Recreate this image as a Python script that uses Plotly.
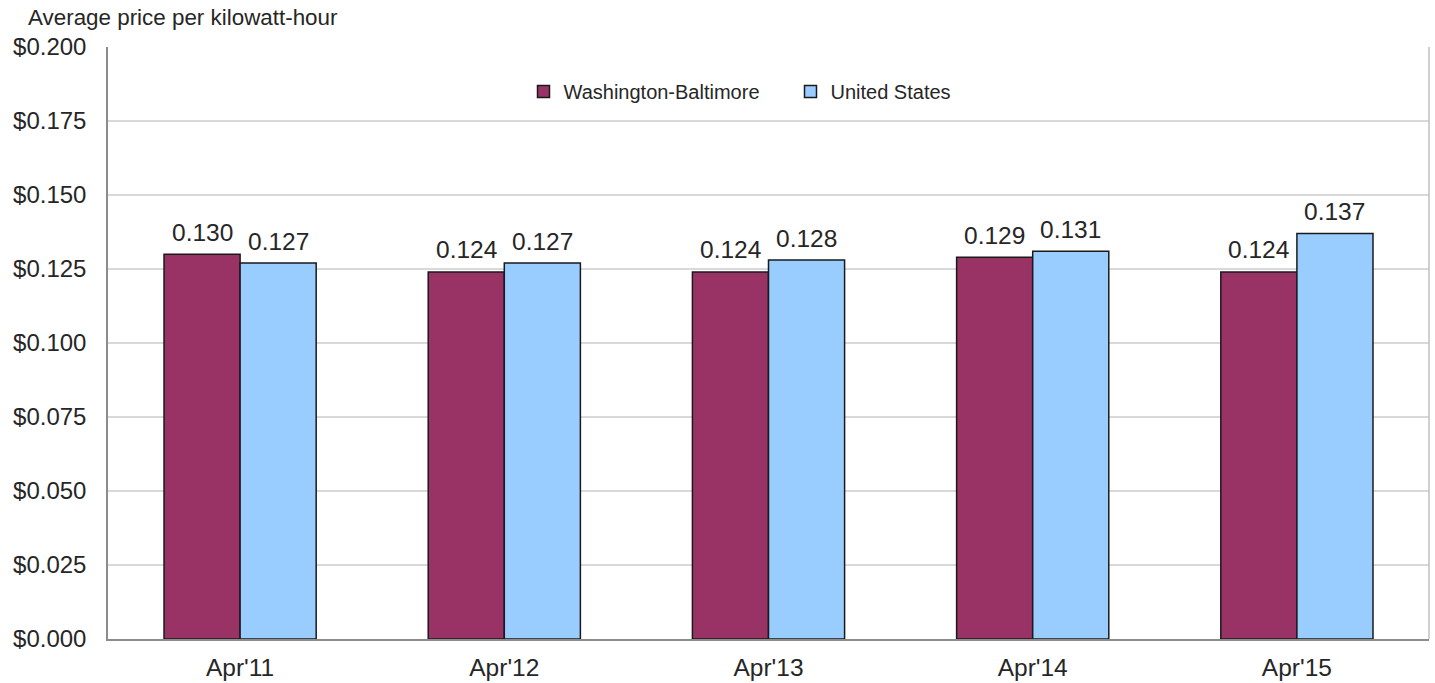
import plotly.graph_objects as go

periods = ["Apr'11", "Apr'12", "Apr'13", "Apr'14", "Apr'15"]
wash_balt = [0.130, 0.124, 0.124, 0.129, 0.124]
united_states = [0.127, 0.127, 0.128, 0.131, 0.137]
y_ticks = [0.0, 0.025, 0.05, 0.075, 0.1, 0.125, 0.15, 0.175, 0.2]

FONT = "Liberation Sans, Arial, sans-serif"
TXT = "#262626"

fig = go.Figure()
fig.add_trace(go.Bar(
    x=periods, y=wash_balt, name="Washington-Baltimore",
    marker=dict(color="#993366", line=dict(color="#1a1a1a", width=1.5)),
))
fig.add_trace(go.Bar(
    x=periods, y=united_states, name="United States",
    marker=dict(color="#99CCFF", line=dict(color="#1a1a1a", width=1.5)),
))

# value labels above each bar, with a white box that interrupts gridlines
for series, xshift in ((wash_balt, -38), (united_states, 38)):
    for p, v in zip(periods, series):
        fig.add_annotation(
            x=p, y=v, text=f"{v:.3f}", showarrow=False,
            xshift=xshift, yshift=22, bgcolor="white",
            font=dict(family=FONT, size=24.5, color=TXT),
        )

fig.add_annotation(
    xref="paper", yref="paper", x=-0.062, y=1.0, yshift=30,
    xanchor="left", yanchor="middle", showarrow=False,
    text="Average price per kilowatt-hour",
    font=dict(family=FONT, size=22.4, color=TXT),
)

fig.update_layout(
    width=1435, height=683,
    margin=dict(l=108, r=6, t=47, b=44, autoexpand=False),
    paper_bgcolor="white", plot_bgcolor="white",
    barmode="group", bargap=0.424, bargroupgap=0,
    showlegend=True,
    legend=dict(
        orientation="h", x=0.5 + 22 / 1321, xanchor="center", y=0.925, yanchor="middle",
        bgcolor="white", font=dict(family=FONT, size=20, color=TXT),
        itemwidth=30, tracegroupgap=0,
        entrywidthmode="pixels", entrywidth=222,
    ),
    xaxis=dict(
        showgrid=False, showline=True, linecolor="#8c8c8c", linewidth=1.5,
        ticks="", tickfont=dict(family=FONT, size=24.5, color=TXT),
        ticklabelstandoff=6, mirror=False, automargin=False,
    ),
    yaxis=dict(
        range=[0, 0.2], tickvals=y_ticks,
        ticktext=[f"${t:.3f}" for t in y_ticks],
        showgrid=True, gridcolor="#d9d9d9", gridwidth=2,
        showline=True, linecolor="#8c8c8c", linewidth=1.5,
        zeroline=False, ticks="", ticklabelstandoff=15,
        tickfont=dict(family=FONT, size=24, color=TXT), automargin=False,
    ),
)

# right-hand border of the plot area
fig.add_shape(type="line", xref="paper", yref="paper", x0=1, x1=1, y0=0, y1=1,
              line=dict(color="#bfbfbf", width=1.5))

fig.write_html("out.html")
